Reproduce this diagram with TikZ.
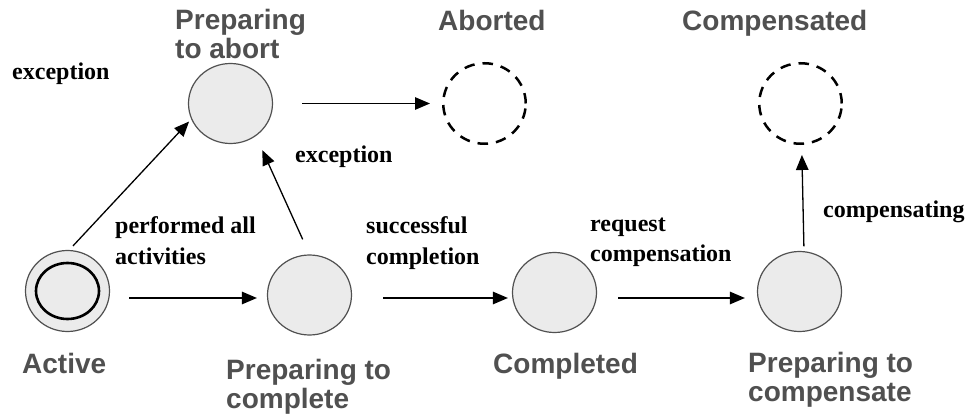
\documentclass[tikz,border=0pt]{standalone}
\usepackage{fontspec}
\setmainfont{Liberation Serif}
\newfontfamily\labsans{Liberation Sans}
\usetikzlibrary{arrows.meta,shapes.geometric}
\definecolor{nodefill}{HTML}{EBEBEB}
\definecolor{nodeline}{HTML}{505050}
\definecolor{labgray}{HTML}{505050}
\begin{document}
\begin{tikzpicture}[x=1pt,y=-1pt,
  state/.style={ellipse, draw=nodeline, line width=1.2pt, fill=nodefill,
    minimum width=84pt, minimum height=80pt, inner sep=0pt},
  finalstate/.style={ellipse, draw=black, line width=2.5pt,
    dash pattern=on 10.5pt off 8pt, minimum width=82.5pt, minimum height=80.5pt, inner sep=0pt},
  arr/.style={line width=1.3pt, -{Triangle[length=15pt,width=12.5pt]}},
  stlabel/.style={font=\labsans\bfseries\fontsize{28}{29}\selectfont,
    text=labgray, inner sep=0pt, align=left},
  edlabel/.style={font=\bfseries\fontsize{24}{30.5}\selectfont,
    inner sep=0pt, align=left}]
\useasboundingbox[fill=white] (0,0) rectangle (972,414);

% states
\node[state, minimum width=84pt, minimum height=81pt] (act) at (67.5,291) {};
\node[ellipse, draw=black, line width=2.6pt, fill=nodefill,
  minimum width=63pt, minimum height=56pt, inner sep=0pt] (actin) at (67.5,291) {};
\node[state] (pta) at (230.5,103.5) {};
\node[state] (ptc) at (309.5,295) {};
\node[state] (cmp) at (554.5,292.5) {};
\node[state] (ptcomp) at (799.5,291.5) {};
\node[finalstate] (abo) at (484.5,103.5) {};
\node[finalstate] (comped) at (800.5,103.5) {};

% state labels
\node[stlabel, anchor=north west] (lpta) at (175,9.5) {Preparing\\to abort};
\node[stlabel, anchor=base west] (labo) at (438,31) {Aborted};
\node[stlabel, anchor=base west] (lcomped) at (682,31) {Compensated};
\node[stlabel, anchor=base west] (lact) at (22,373) {Active};
\node[stlabel, anchor=base west] (lcmp) at (493,373) {Completed};
\node[stlabel, anchor=north west] (lptc) at (226,359.5) {Preparing to\\complete};
\node[stlabel, anchor=north west] (lptcomp) at (748,352.5) {Preparing to\\compensate};

% transitions
\draw[arr, shorten <=19pt, shorten >=10pt] ([yshift=-7pt]act.east) -- ([yshift=-3pt]ptc.west);
\draw[arr, shorten <=31pt, shorten >=4pt] ([yshift=-3pt]ptc.east) -- ([yshift=-5.5pt]cmp.west);
\draw[arr, shorten <=21pt, shorten >=12pt] ([yshift=-5.5pt]cmp.east) -- ([yshift=-6.5pt]ptcomp.west);
\draw[arr, shorten <=4.5pt, shorten >=10pt] ([xshift=4.5pt]ptcomp.north) -- ([xshift=1.2pt]comped.south);
\draw[arr, shorten <=29pt, shorten >=12pt] (pta.east) -- (abo.west);
\draw[arr] ([shift={(5.5pt,4pt)}]act.north) -- ([shift={(-5pt,3pt)}]pta.210);
\draw[arr, shorten <=16.5pt, shorten >=15.5pt] (ptc.north) -- (pta.308);

% transition labels
\node[edlabel, anchor=base west] (e1) at (12,80) {exception};
\node[edlabel, anchor=base west] (e2) at (295,163) {exception};
\node[edlabel, anchor=north west] (e3) at (115,216.5) {performed all\\activities};
\node[edlabel, anchor=north west] (e4) at (366,216.5) {successful\\completion};
\node[edlabel, anchor=north west] (e5) at (590,217.5) {request\\compensation};
\node[edlabel, anchor=base west] (e6) at (823,218) {compensating};
\end{tikzpicture}
\end{document}
